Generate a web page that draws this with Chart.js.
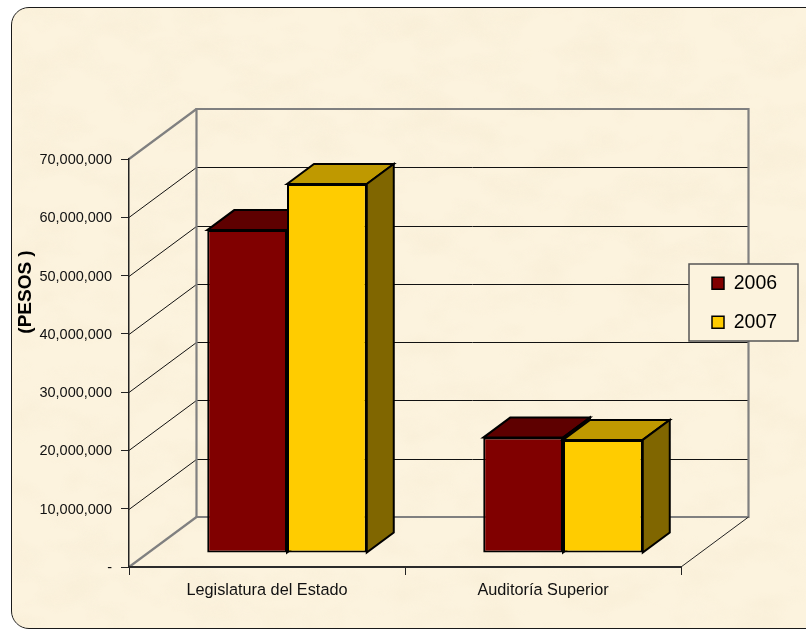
<!DOCTYPE html>
<html>
<head>
<meta charset="utf-8">
<style>
html,body{margin:0;padding:0;background:#fff;width:806px;height:629px;overflow:hidden}
#wrap{position:relative;width:806px;height:629px;overflow:hidden}
#panel{position:absolute;left:11px;top:7px;width:815px;height:622px;box-sizing:border-box;border:1.5px solid #1a1a1a;border-radius:18px;background:#fcf3de;overflow:hidden}
#panel svg{position:absolute;left:0;top:0}
canvas{position:absolute;left:0;top:0}
</style>
</head>
<body>
<div id="wrap">
<div id="panel">
<svg width="815" height="640" xmlns="http://www.w3.org/2000/svg">
<filter id="mottle" x="0" y="0" width="100%" height="100%">
<feTurbulence type="fractalNoise" baseFrequency="0.018 0.03" numOctaves="3" seed="7"/>
<feColorMatrix type="matrix" values="0 0 0 0 0.93  0 0 0 0 0.84  0 0 0 0 0.66  1.6 0 0 0 -0.68"/>
</filter>
<rect width="815" height="640" filter="url(#mottle)" opacity="0.8"/>
</svg>
</div>
<canvas id="c" width="806" height="629"></canvas>
</div>
<script src="https://cdn.jsdelivr.net/npm/chart.js@4"></script>
<script>
const categories = ["Legislatura del Estado", "Auditoría Superior"];
const seriesNames = ["2006", "2007"];
const values2006 = [55400000, 19800000];
const values2007 = [63300000, 19400000];
const yMax = 70000000;
const yStep = 10000000;
const frontColors = ["#800000", "#FFCC00"];
const topColors = ["#5E0000", "#BF9900"];
const sideColors = ["#400000", "#806600"];

const WALL = {dx: 67.5, dy: -50};
const BAR_OFFSET = {dx: 20, dy: -14};
const BAR_DEPTH = {dx: 27, dy: -20};
const LEGEND_BOX = {left: 689, top: 264, right: 798, bottom: 341};
const LEGEND_AREA = {left: 692.5, top: 254, right: 805, bottom: 360};
const TITLE_SHIFT = -71;

function poly(ctx, pts, fill, stroke, lw) {
  ctx.beginPath();
  pts.forEach((p, i) => i ? ctx.lineTo(p[0], p[1]) : ctx.moveTo(p[0], p[1]));
  ctx.closePath();
  if (fill) { ctx.fillStyle = fill; ctx.fill(); }
  if (stroke) { ctx.strokeStyle = stroke; ctx.lineWidth = lw; ctx.lineJoin = 'miter'; ctx.stroke(); }
}
function line(ctx, pts, color, lw) {
  ctx.beginPath();
  pts.forEach((p, i) => i ? ctx.lineTo(p[0], p[1]) : ctx.moveTo(p[0], p[1]));
  ctx.strokeStyle = color; ctx.lineWidth = lw; ctx.stroke();
}

const depth3d = {
  id: 'depth3d',
  beforeDraw(chart) {
    const {ctx, chartArea: a, scales: {y}} = chart;
    const {dx, dy} = WALL;
    ctx.save();
    for (let v = yStep; v < yMax; v += yStep) {
      const py = Math.round(y.getPixelForValue(v)) + 0.5;
      line(ctx, [[a.left, py], [a.left + dx, py + dy], [a.right + dx, py + dy]], '#111', 1);
    }
    const t = y.getPixelForValue(yMax), b = y.getPixelForValue(0);
    poly(ctx, [[a.left + dx, t + dy], [a.right + dx, t + dy], [a.right + dx, b + dy], [a.left + dx, b + dy]], null, '#808080', 2.2);
    line(ctx, [[a.left, t], [a.left + dx, t + dy]], '#808080', 2.2);
    line(ctx, [[a.left, b], [a.left + dx, b + dy]], '#808080', 2.2);
    line(ctx, [[a.right, b], [a.right + dx, b + dy]], '#222', 1);
    const L = LEGEND_BOX;
    ctx.fillStyle = '#fcf3de';
    ctx.fillRect(L.left, L.top, L.right - L.left, L.bottom - L.top);
    ctx.strokeStyle = '#555'; ctx.lineWidth = 1.5;
    ctx.strokeRect(L.left, L.top, L.right - L.left, L.bottom - L.top);
    ctx.restore();
  },
  afterLayout(chart) {
    const lg = chart.legend, L = LEGEND_AREA;
    if (lg) {
      lg.left = L.left; lg.top = L.top; lg.right = L.right; lg.bottom = L.bottom;
      lg.width = L.right - L.left; lg.height = L.bottom - L.top;
    }
    const ys = chart.scales.y;
    if (!ys._titleShifted) {
      const orig = ys.drawTitle;
      ys.drawTitle = function () {
        this.ctx.save();
        this.ctx.translate(0, TITLE_SHIFT);
        orig.call(this);
        this.ctx.restore();
      };
      ys._titleShifted = true;
    }
  },
  // The library paints the first series last; the 3D look needs it the other way round.
  beforeDatasetDraw() { return false; },
  afterDatasetsDraw(chart) {
    const {ctx} = chart;
    const {dx: ox, dy: oy} = BAR_OFFSET;
    const {dx, dy} = BAR_DEPTH;
    chart.data.datasets.forEach((ds, i) => {
      const meta = chart.getDatasetMeta(i);
      ctx.save();
      ctx.translate(ox, oy);
      meta.data.forEach(el => {
        const p = el.getProps(['x', 'y', 'base', 'width'], true);
        const l = p.x - p.width / 2, r = p.x + p.width / 2;
        poly(ctx, [[l, p.y], [l + dx, p.y + dy], [r + dx, p.y + dy], [r, p.y]], topColors[i], '#000', 2);
        poly(ctx, [[r, p.y], [r + dx, p.y + dy], [r + dx, p.base + dy], [r, p.base]], sideColors[i], '#000', 2);
      });
      meta.controller.draw();
      ctx.restore();
    });
  }
};

new Chart(document.getElementById('c').getContext('2d'), {
  type: 'bar',
  plugins: [depth3d],
  data: {
    labels: categories,
    datasets: [
      {label: seriesNames[0], data: values2006, backgroundColor: frontColors[0], borderColor: '#000', borderWidth: 2, borderSkipped: false, clip: false},
      {label: seriesNames[1], data: values2007, backgroundColor: frontColors[1], borderColor: '#000', borderWidth: 2, borderSkipped: false, clip: false}
    ]
  },
  options: {
    responsive: false,
    devicePixelRatio: 1,
    animation: false,
    layout: {padding: {left: 14, top: 159, right: 125, bottom: 22}},
    datasets: {bar: {barPercentage: 1, categoryPercentage: 0.578}},
    plugins: {
      tooltip: {enabled: false},
      title: {display: false},
      legend: {
        position: 'chartArea',
        align: 'start',
        labels: {
          boxWidth: 12, boxHeight: 12, padding: 19.5,
          color: '#000',
          font: {family: '"Liberation Sans", Arial, sans-serif', size: 19.5},
          generateLabels(chart) {
            return chart.data.datasets.map((d, i) => ({
              text: d.label, fillStyle: frontColors[i], strokeStyle: '#000', lineWidth: 1.5, datasetIndex: i, hidden: false
            }));
          }
        }
      }
    },
    scales: {
      x: {
        afterFit(s) { s.height = 40; },
        border: {display: true, color: '#2b2b2b', width: 2},
        grid: {display: true, drawOnChartArea: false, drawTicks: true, tickLength: 8, color: '#222', lineWidth: 1},
        ticks: {color: '#111', padding: 6, maxRotation: 0, font: {family: '"Liberation Sans", Arial, sans-serif', size: 16.3}}
      },
      y: {
        min: 0, max: yMax,
        afterFit(s) { s.width = 115; },
        title: {display: true, text: '(PESOS )', color: '#000', padding: {top: 0, bottom: 0}, font: {family: '"Liberation Sans", Arial, sans-serif', size: 19, weight: 'bold'}},
        border: {display: true, color: '#222', width: 1.5},
        grid: {display: true, drawOnChartArea: false, drawTicks: true, tickLength: 8, color: '#222', lineWidth: 1},
        ticks: {
          stepSize: yStep, color: '#111', padding: 9, labelOffset: 1,
          font: {family: '"Liberation Sans", Arial, sans-serif', size: 14.5},
          callback: v => v === 0 ? '-' : Number(v).toLocaleString('en-US')
        }
      }
    }
  }
});
</script>
</body>
</html>
